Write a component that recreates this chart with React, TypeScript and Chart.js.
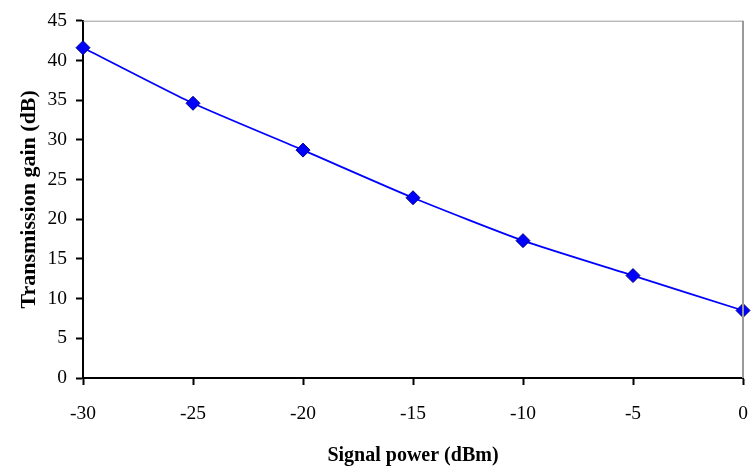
import React, { useEffect, useRef } from "react";
import { Chart, registerables } from "chart.js";

Chart.register(...registerables);

const signalPower = [-30, -25, -20, -15, -10, -5, 0];
const transmissionGain = [41.6, 34.6, 28.7, 22.7, 17.3, 12.9, 8.5];
const xTitle = "Signal power (dBm)";
const yTitle = "Transmission gain (dB)";

const frameBorder = {
  id: "frameBorder",
  afterDatasetsDraw(chart: any) {
    const { ctx, chartArea } = chart;
    ctx.save();
    ctx.strokeStyle = "#9a9a9a";
    ctx.lineWidth = 1;
    ctx.beginPath();
    ctx.moveTo(chartArea.left, chartArea.top + 0.5);
    ctx.lineTo(chartArea.right, chartArea.top + 0.5);
    ctx.stroke();
    ctx.lineWidth = 2;
    ctx.beginPath();
    ctx.moveTo(chartArea.right, chartArea.top);
    ctx.lineTo(chartArea.right, chartArea.bottom);
    ctx.stroke();
    ctx.restore();
  },
};

export default function App() {
  const ref = useRef<HTMLCanvasElement>(null);
  useEffect(() => {
    document.body.style.margin = "0";
    const chart = new Chart(ref.current!, {
      type: "line",
      data: {
        datasets: [
          {
            data: signalPower.map((x, i) => ({ x, y: transmissionGain[i] })),
            borderColor: "#0000ff",
            borderWidth: 1.8,
            tension: 0.2,
            pointStyle: "rectRot",
            pointRadius: 7,
            pointBackgroundColor: "#0000ff",
            pointBorderColor: "#000080",
            pointBorderWidth: 1,
            clip: false as any,
          },
        ],
      },
      options: {
        animation: false,
        responsive: false,
        devicePixelRatio: 1,
        layout: { padding: { top: 17, right: 2, left: 0, bottom: 0 } },
        plugins: { legend: { display: false }, tooltip: { enabled: false } },
        scales: {
          x: {
            type: "linear",
            min: -30,
            max: 0,
            afterFit: (s: any) => {
              s.height = 91;
              s.paddingLeft = 0;
              s.paddingRight = 0;
            },
            ticks: {
              stepSize: 5,
              color: "#000",
              padding: 17,
              font: { family: "'Liberation Serif', 'Times New Roman', serif", size: 19.5 },
            },
            grid: { drawOnChartArea: false, drawTicks: true, tickLength: 7, color: "#000", tickWidth: 2 },
            border: { color: "#000", width: 2 },
            title: {
              display: true,
              text: xTitle,
              color: "#000",
              padding: { top: 0, bottom: 1 },
              font: { family: "'Liberation Serif', 'Times New Roman', serif", size: 20, weight: "bold" },
            },
          },
          y: {
            min: 0,
            max: 45,
            afterFit: (s: any) => {
              s.width = 83;
            },
            ticks: {
              stepSize: 5,
              color: "#000",
              padding: 9,
              font: { family: "'Liberation Serif', 'Times New Roman', serif", size: 19.5 },
            },
            grid: { drawOnChartArea: false, drawTicks: true, tickLength: 7, color: "#000", tickWidth: 2 },
            border: { color: "#000", width: 2 },
            title: {
              display: true,
              text: yTitle,
              color: "#000",
              padding: { top: 16, bottom: 0 },
              font: { family: "'Liberation Serif', 'Times New Roman', serif", size: 22, weight: "bold" },
            },
          },
        },
      },
      plugins: [frameBorder],
    });
    return () => chart.destroy();
  }, []);
  return (
    <div style={{ width: 751, height: 469 }}>
      <canvas ref={ref} width={751} height={469} />
    </div>
  );
}
